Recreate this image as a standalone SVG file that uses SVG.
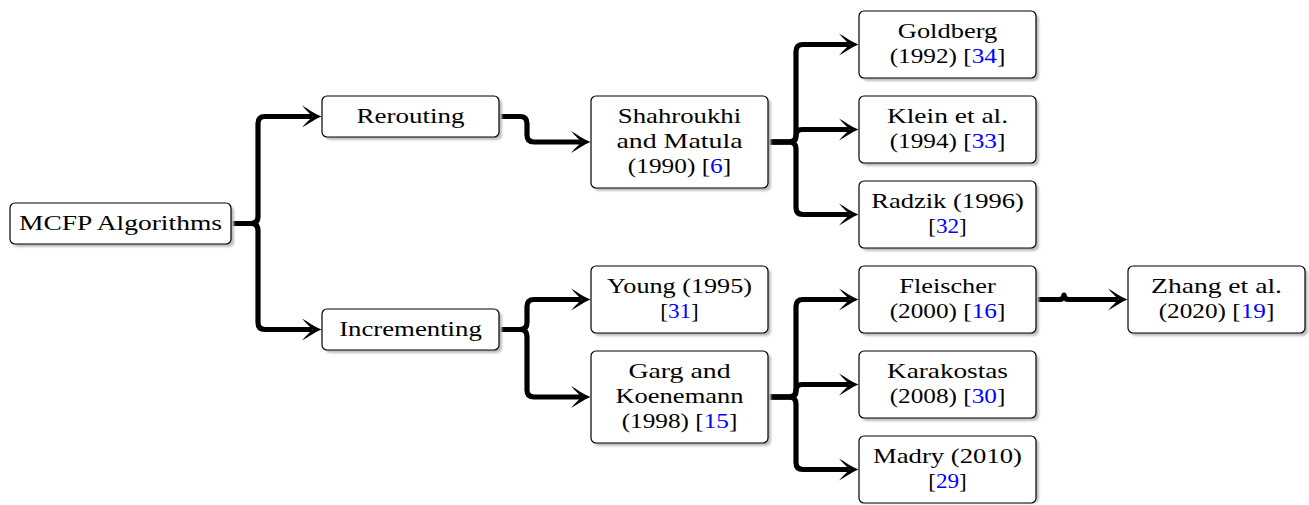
<svg xmlns="http://www.w3.org/2000/svg" xmlns:xlink="http://www.w3.org/1999/xlink" width="1309" height="505" viewBox="0 0 1309 505">
<style>
.box{fill:#ffffff;stroke:#000000;stroke-width:1.2}
.shadow{fill:#bdbdbd;filter:url(#blur)}
.t{font-family:"Liberation Serif","DejaVu Serif","Noto Serif","Times New Roman",serif;font-size:22px;fill:#000000;text-anchor:middle}
.ref{fill:#0000ff}
.edge{fill:none;stroke:#000000;stroke-width:5.2;stroke-linejoin:round}
.ah{fill:#000000}
</style>
<defs>
<filter id="blur" x="-10%" y="-20%" width="120%" height="140%"><feGaussianBlur stdDeviation="1"/></filter>
<path id="ah" d="M 1.5 0 C -5 -2.5 -12 -7.5 -18 -11 C -13 -5 -9 -2 -7.5 0 C -9 2 -13 5 -18 11 C -12 7.5 -5 2.5 1.5 0 Z"/>
</defs>
<rect width="1309" height="505" fill="#ffffff"/>

<g id="connectors">
<path class="edge" d="M 231 223.5 H 251 Q 258 223.5 258 216.5 V 123.5 Q 258 116.5 265 116.5 H 312"/>
<path class="edge" d="M 231 223.5 H 251 Q 258 223.5 258 230.5 V 322.5 Q 258 329.5 265 329.5 H 312"/>
<path class="edge" d="M 499 116.5 H 520 Q 527 116.5 527 123.5 V 135 Q 527 142 534 142 H 581"/>
<path class="edge" d="M 499 329.5 H 520 Q 527 329.5 527 322.5 V 306.5 Q 527 299.5 534 299.5 H 581"/>
<path class="edge" d="M 499 329.5 H 520 Q 527 329.5 527 336.5 V 390 Q 527 397 534 397 H 581"/>
<path class="edge" d="M 768 142 H 789 Q 796 142 796 135 V 51.5 Q 796 44.5 803 44.5 H 849"/>
<path class="edge" d="M 768 142 H 790 Q 796 142 796 136 Q 796 129.5 802 129.5 H 849"/>
<path class="edge" d="M 768 142 H 789 Q 796 142 796 149 V 207.5 Q 796 214.5 803 214.5 H 849"/>
<path class="edge" d="M 768 397 H 789 Q 796 397 796 390 V 306.5 Q 796 299.5 803 299.5 H 849"/>
<path class="edge" d="M 768 397 H 790 Q 796 397 796 391 Q 796 384.5 802 384.5 H 849"/>
<path class="edge" d="M 768 397 H 789 Q 796 397 796 404 V 462.5 Q 796 469.5 803 469.5 H 849"/>
<path class="edge" d="M 1036 299.5 H 1059 Q 1064 299.5 1064 295 Q 1064 299.5 1069 299.5 H 1118"/>
<use class="ah" xlink:href="#ah" x="320" y="116.5"/>
<use class="ah" xlink:href="#ah" x="320" y="329.5"/>
<use class="ah" xlink:href="#ah" x="589" y="142"/>
<use class="ah" xlink:href="#ah" x="589" y="299.5"/>
<use class="ah" xlink:href="#ah" x="589" y="397"/>
<use class="ah" xlink:href="#ah" x="857" y="44.5"/>
<use class="ah" xlink:href="#ah" x="857" y="129.5"/>
<use class="ah" xlink:href="#ah" x="857" y="214.5"/>
<use class="ah" xlink:href="#ah" x="857" y="299.5"/>
<use class="ah" xlink:href="#ah" x="857" y="384.5"/>
<use class="ah" xlink:href="#ah" x="857" y="469.5"/>
<use class="ah" xlink:href="#ah" x="1126" y="299.5"/>
</g>

<g id="mcfp">
<rect class="shadow" x="13" y="206" width="221" height="41" rx="5"/>
<rect class="box" x="10" y="203" width="221" height="41" rx="5"/>
<text class="t" x="120.5" y="229.5" textLength="203" lengthAdjust="spacingAndGlyphs">MCFP Algorithms</text>
</g>

<g id="rerouting">
<rect class="shadow" x="325" y="99" width="177" height="41" rx="5"/>
<rect class="box" x="322" y="96" width="177" height="41" rx="5"/>
<text class="t" x="410.5" y="122.5" textLength="108" lengthAdjust="spacingAndGlyphs">Rerouting</text>
</g>

<g id="incrementing">
<rect class="shadow" x="325" y="312" width="177" height="41" rx="5"/>
<rect class="box" x="322" y="309" width="177" height="41" rx="5"/>
<text class="t" x="410.5" y="335.5" textLength="142.7" lengthAdjust="spacingAndGlyphs">Incrementing</text>
</g>

<g id="shahroukhi">
<rect class="shadow" x="594" y="99" width="177" height="92" rx="5"/>
<rect class="box" x="591" y="96" width="177" height="92" rx="5"/>
<text class="t" x="679.5" y="123" textLength="123.4" lengthAdjust="spacingAndGlyphs">Shahroukhi</text>
<text class="t" x="679.5" y="148" textLength="126.1" lengthAdjust="spacingAndGlyphs">and Matula</text>
<text class="t" x="679.5" y="173" textLength="103.3" lengthAdjust="spacingAndGlyphs">(1990) [<tspan class="ref">6</tspan>]</text>
</g>

<g id="goldberg">
<rect class="shadow" x="862" y="14" width="177" height="67" rx="5"/>
<rect class="box" x="859" y="11" width="177" height="67" rx="5"/>
<text class="t" x="947.5" y="38" textLength="99.4" lengthAdjust="spacingAndGlyphs">Goldberg</text>
<text class="t" x="947.5" y="63" textLength="115.7" lengthAdjust="spacingAndGlyphs">(1992) [<tspan class="ref">34</tspan>]</text>
</g>

<g id="klein">
<rect class="shadow" x="862" y="99" width="177" height="67" rx="5"/>
<rect class="box" x="859" y="96" width="177" height="67" rx="5"/>
<text class="t" x="947.5" y="123" textLength="121.2" lengthAdjust="spacingAndGlyphs">Klein et al.</text>
<text class="t" x="947.5" y="148" textLength="115.7" lengthAdjust="spacingAndGlyphs">(1994) [<tspan class="ref">33</tspan>]</text>
</g>

<g id="radzik">
<rect class="shadow" x="862" y="184" width="177" height="67" rx="5"/>
<rect class="box" x="859" y="181" width="177" height="67" rx="5"/>
<text class="t" x="947.5" y="208" textLength="152.6" lengthAdjust="spacingAndGlyphs">Radzik (1996)</text>
<text class="t" x="947.5" y="233" textLength="38.6" lengthAdjust="spacingAndGlyphs">[<tspan class="ref">32</tspan>]</text>
</g>

<g id="young">
<rect class="shadow" x="594" y="269" width="177" height="67" rx="5"/>
<rect class="box" x="591" y="266" width="177" height="67" rx="5"/>
<text class="t" x="679.5" y="293" textLength="145" lengthAdjust="spacingAndGlyphs">Young (1995)</text>
<text class="t" x="679.5" y="318" textLength="38.6" lengthAdjust="spacingAndGlyphs">[<tspan class="ref">31</tspan>]</text>
</g>

<g id="garg">
<rect class="shadow" x="594" y="354" width="177" height="92" rx="5"/>
<rect class="box" x="591" y="351" width="177" height="92" rx="5"/>
<text class="t" x="679.5" y="378" textLength="102.2" lengthAdjust="spacingAndGlyphs">Garg and</text>
<text class="t" x="679.5" y="403" textLength="128.1" lengthAdjust="spacingAndGlyphs">Koenemann</text>
<text class="t" x="679.5" y="428" textLength="115.7" lengthAdjust="spacingAndGlyphs">(1998) [<tspan class="ref">15</tspan>]</text>
</g>

<g id="fleischer">
<rect class="shadow" x="862" y="269" width="177" height="67" rx="5"/>
<rect class="box" x="859" y="266" width="177" height="67" rx="5"/>
<text class="t" x="947.5" y="293" textLength="96.3" lengthAdjust="spacingAndGlyphs">Fleischer</text>
<text class="t" x="947.5" y="318" textLength="115.7" lengthAdjust="spacingAndGlyphs">(2000) [<tspan class="ref">16</tspan>]</text>
</g>

<g id="karakostas">
<rect class="shadow" x="862" y="354" width="177" height="67" rx="5"/>
<rect class="box" x="859" y="351" width="177" height="67" rx="5"/>
<text class="t" x="947.5" y="378" textLength="120.9" lengthAdjust="spacingAndGlyphs">Karakostas</text>
<text class="t" x="947.5" y="403" textLength="115.7" lengthAdjust="spacingAndGlyphs">(2008) [<tspan class="ref">30</tspan>]</text>
</g>

<g id="madry">
<rect class="shadow" x="862" y="439" width="177" height="64" rx="5"/>
<rect class="box" x="859" y="436" width="177" height="67" rx="5"/>
<text class="t" x="947.5" y="463" textLength="148.9" lengthAdjust="spacingAndGlyphs">Madry (2010)</text>
<text class="t" x="947.5" y="488" textLength="38.6" lengthAdjust="spacingAndGlyphs">[<tspan class="ref">29</tspan>]</text>
</g>

<g id="zhang">
<rect class="shadow" x="1131" y="269" width="177" height="67" rx="5"/>
<rect class="box" x="1128" y="266" width="177" height="67" rx="5"/>
<text class="t" x="1216.5" y="293" textLength="130.9" lengthAdjust="spacingAndGlyphs">Zhang et al.</text>
<text class="t" x="1216.5" y="318" textLength="115.7" lengthAdjust="spacingAndGlyphs">(2020) [<tspan class="ref">19</tspan>]</text>
</g>
</svg>
